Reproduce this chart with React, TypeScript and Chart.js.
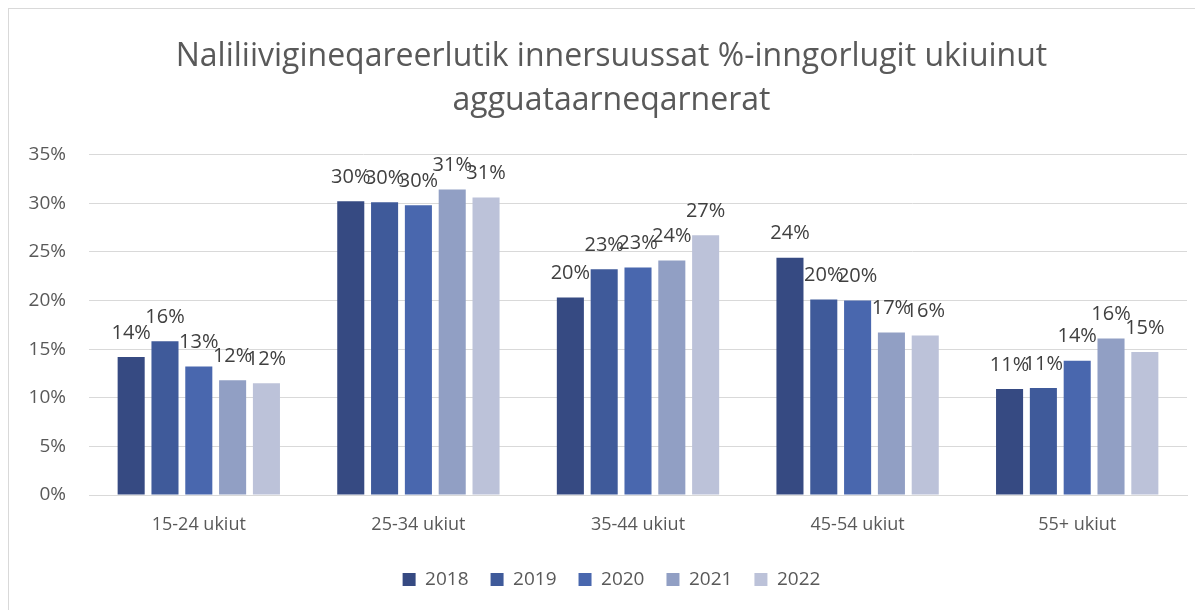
import React, { useEffect, useRef } from "react";
import { Chart, registerables } from "chart.js";

Chart.register(...registerables);

const categories = ["15-24 ukiut", "25-34 ukiut", "35-44 ukiut", "45-54 ukiut", "55+ ukiut"];
const years = ["2018", "2019", "2020", "2021", "2022"];
const values2018 = [14.2, 30.2, 20.3, 24.4, 10.9];
const values2019 = [15.8, 30.1, 23.2, 20.1, 11.0];
const values2020 = [13.2, 29.8, 23.4, 20.0, 13.8];
const values2021 = [11.8, 31.4, 24.1, 16.7, 16.1];
const values2022 = [11.5, 30.6, 26.7, 16.4, 14.7];
const yTicks = [0, 5, 10, 15, 20, 25, 30, 35];
const colors = ["#364A82", "#3F5A9A", "#4967AE", "#919FC4", "#BCC2D9"];
const titleLines = ["Naliliivigineqareerlutik innersuussat %-inngorlugit ukiuinut", "agguataarneqarnerat"];

const FONT = "'Open Sans', sans-serif";

const labelPlugin = {
  id: "barLabels",
  afterDatasetsDraw(chart: any) {
    const ctx = chart.ctx;
    ctx.save();
    ctx.font = `20px ${FONT}`;
    ctx.fillStyle = "#404040";
    ctx.textAlign = "center";
    ctx.textBaseline = "middle";
    chart.data.datasets.forEach((ds: any, i: number) => {
      const meta = chart.getDatasetMeta(i);
      meta.data.forEach((bar: any, j: number) => {
        const v = ds.data[j];
        ctx.fillText(Math.round(v) + "%", bar.x, bar.y - 24);
      });
    });
    ctx.restore();
  },
};

export default function App() {
  const ref = useRef<HTMLCanvasElement>(null);
  useEffect(() => {
    if (!ref.current) return;
    const all = [values2018, values2019, values2020, values2021, values2022];
    const chart = new Chart(ref.current, {
      type: "bar",
      data: {
        labels: categories,
        datasets: years.map((y, i) => ({
          label: y,
          data: all[i],
          backgroundColor: colors[i],
          borderWidth: 0,
          categoryPercentage: 0.77,
          barPercentage: 0.8,
        })),
      },
      options: {
        responsive: false,
        animation: false,
        layout: { padding: { left: 7, right: 2, top: 4, bottom: 11 } },
        plugins: {
          title: {
            display: true,
            text: titleLines,
            color: "#595959",
            font: { family: FONT, size: 32, weight: "normal", lineHeight: 1.4 },
            padding: { top: 21, bottom: 31 },
          },
          legend: {
            position: "bottom",
            labels: {
              color: "#595959",
              font: { family: FONT, size: 19 },
              boxWidth: 13,
              boxHeight: 13,
              padding: 22,
            },
          },
          tooltip: { enabled: false },
        },
        scales: {
          x: {
            afterFit: (s: any) => {
              s.height = 53;
            },
            grid: { display: false, drawTicks: false },
            border: { display: true, color: "#d9d9d9" },
            ticks: { color: "#595959", font: { family: FONT, size: 18 }, padding: 19 },
          },
          y: {
            min: 0,
            max: 35,
            afterBuildTicks: (s: any) => {
              s.ticks = yTicks.map((v) => ({ value: v }));
            },
            afterFit: (s: any) => {
              s.width = 73;
            },
            grid: { color: "#d9d9d9", drawTicks: false },
            border: { display: false },
            ticks: {
              color: "#595959",
              font: { family: FONT, size: 19 },
              padding: 23,
              callback: (v: any) => v + "%",
            },
          },
          yRight: {
            position: "right",
            min: 0,
            max: 35,
            afterFit: (s: any) => {
              s.width = 20;
            },
            grid: { display: false, drawTicks: false },
            border: { display: false },
            ticks: { display: false },
          },
        },
      },
      plugins: [labelPlugin],
    });
    return () => chart.destroy();
  }, []);
  return (
    <div
      style={{
        width: 1210,
        height: 620,
        borderLeft: "1px solid #d9d9d9",
        borderTop: "1px solid #d9d9d9",
        background: "#fff",
      }}
    >
      <canvas ref={ref} width={1200} height={601} style={{ display: "block" }} />
    </div>
  );
}
